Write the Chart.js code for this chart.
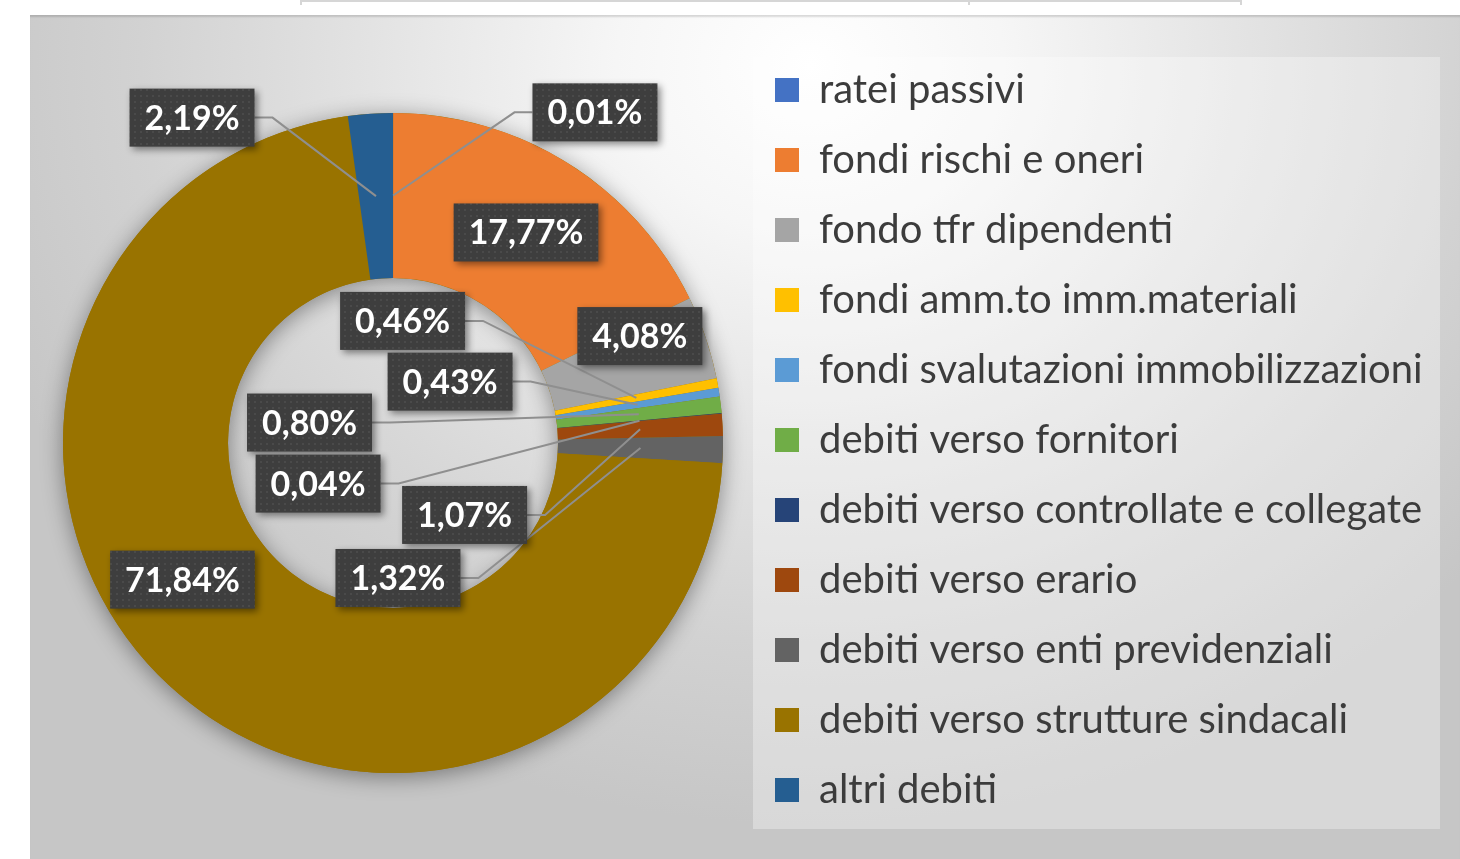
<!DOCTYPE html>
<html>
<head>
<meta charset="utf-8">
<script src="https://cdn.jsdelivr.net/npm/chart.js@4.4.1/dist/chart.umd.min.js"></script>
<style>
  body { margin: 0; background: #fff; width: 1460px; height: 859px; overflow: hidden; position: relative; }
  .rule { position: absolute; top: 0; left: 300px; width: 940px; height: 0; border-top: 2px solid #d6d6d6; }
  .tick { position: absolute; top: 0; width: 0; height: 5px; border-left: 2px solid #d6d6d6; }
  #frame {
    position: absolute; left: 30px; top: 15px; width: 1430px; height: 844px;
    background: radial-gradient(ellipse 880px 760px at 780px 50px, #ffffff 0%, #f6f6f6 22%, #e3e3e3 50%, #d2d2d2 76%, #c6c6c6 100%);
    box-shadow: inset 0 3px 2px -1px rgba(0,0,0,0.14);
  }
  #frame canvas { position: absolute; left: 0; top: 0; }
</style>
</head>
<body>
<div class="rule"></div>
<div class="tick" style="left:300px"></div>
<div class="tick" style="left:968px"></div>
<div class="tick" style="left:1240px"></div>
<div id="frame"><canvas id="passivita" width="1430" height="844"></canvas></div>

<script>
const categories = [
  'ratei passivi',
  'fondi rischi e oneri',
  'fondo tfr dipendenti',
  'fondi amm.to imm.materiali',
  'fondi svalutazioni immobilizzazioni',
  'debiti verso fornitori',
  'debiti verso controllate e collegate',
  'debiti verso erario',
  'debiti verso enti previdenziali',
  'debiti verso strutture sindacali',
  'altri debiti'
];
const shares = [0.01, 17.77, 4.08, 0.46, 0.43, 0.80, 0.04, 1.07, 1.32, 71.84, 2.19];
const sliceColors = ['#4472C4', '#ED7D31', '#A5A5A5', '#FFC000', '#5B9BD5', '#70AD47',
                     '#264478', '#9E480E', '#636363', '#997300', '#255E91'];

// posizione delle etichette, in raggi esterni rispetto al centro
const labelDX = [0.612, 0.403, 0.748, 0.029, 0.173, -0.253, -0.227, 0.217, 0.015, -0.638, -0.609];
const labelDY = [-1.002, -0.638, -0.324, -0.370, -0.186, -0.062, 0.123, 0.218, 0.409, 0.414, -0.986];
const leaderSide = ['left', null, null, 'right', 'right', 'right', 'right', 'right', 'right', null, 'right'];

const legendFont = { family: 'Lato', size: 40 };
const legendPad = 30;
const legendBox = 24;
const legendLeft = 715;   // bordo sinistro della legenda nel canvas
const ringCenterX = 363;
const ringRadius = 330;

// larghezza della legenda per lasciare il grafico a sinistra
var measure = document.createElement('canvas').getContext('2d');
measure.font = legendFont.size + 'px ' + legendFont.family;
var longest = Math.max.apply(null, categories.map(function(c) { return measure.measureText(c).width; }));
var legendWidth = legendPad + legendBox + legendFont.size / 2 + longest + 10;
var padRight = Math.max(0, 1430 - legendLeft - legendWidth);

function fmt(v) {
    return v.toFixed(2).replace('.', ',') + '%';
}

// texture a puntini per i riquadri delle etichette
var dots = document.createElement('canvas');
dots.width = dots.height = 6;
var dctx = dots.getContext('2d');
dctx.fillStyle = '#3e3e3e';
dctx.fillRect(0, 0, 6, 6);
dctx.fillStyle = '#4a4a4a';
dctx.fillRect(2, 2, 2, 2);

// sfondo chiaro dietro la legenda
var legendPanel = {
    id: 'legendPanel',
    beforeDraw: function(chart) {
        var ctx = chart.ctx;
        ctx.save();
        ctx.fillStyle = 'rgba(255,255,255,0.32)';
        ctx.fillRect(chart.legend.left + 8, 42, 1410 - chart.legend.left - 8, 772);
        ctx.restore();
    }
};

// ombra morbida sotto l'anello
var ringShadow = {
    id: 'ringShadow',
    beforeDatasetsDraw: function(chart) {
        var arc = chart.getDatasetMeta(0).data[0];
        var p = arc.getProps(['x', 'y', 'outerRadius', 'innerRadius']);
        var ctx = chart.ctx;
        ctx.save();
        ctx.shadowColor = 'rgba(0,0,0,0.4)';
        ctx.shadowBlur = 22;
        ctx.shadowOffsetY = 4;
        ctx.beginPath();
        ctx.arc(p.x, p.y, p.outerRadius, 0, Math.PI * 2);
        ctx.arc(p.x, p.y, p.innerRadius, 0, Math.PI * 2, true);
        ctx.fillStyle = '#997300';
        ctx.fill('evenodd');
        ctx.restore();
    }
};

// etichette percentuali con riquadro scuro e linee guida
var sliceLabels = {
    id: 'sliceLabels',
    afterDatasetsDraw: function(chart) {
        var ctx = chart.ctx;
        var arcs = chart.getDatasetMeta(0).data;
        var c = arcs[0].getProps(['x', 'y', 'outerRadius']);
        ctx.save();
        ctx.font = 'bold 34px Lato';
        var boxes = arcs.map(function(arc, i) {
            var w = ctx.measureText(fmt(shares[i])).width + 30;
            var h = 58;
            var cx = c.x + labelDX[i] * c.outerRadius;
            var cy = c.y + labelDY[i] * c.outerRadius;
            return { x: cx - w / 2, y: cy - h / 2, w: w, h: h, cx: cx, cy: cy };
        });

        // linee guida
        ctx.strokeStyle = '#8f8f8f';
        ctx.lineWidth = 2;
        arcs.forEach(function(arc, i) {
            if (!leaderSide[i]) return;
            var b = boxes[i];
            var anchor = arc.getCenterPoint();
            var sx = leaderSide[i] === 'left' ? b.x : b.x + b.w;
            var kx = leaderSide[i] === 'left' ? sx - 18 : sx + 18;
            ctx.beginPath();
            ctx.moveTo(sx, b.cy);
            ctx.lineTo(kx, b.cy);
            ctx.lineTo(anchor.x, anchor.y);
            ctx.stroke();
        });

        var pattern = ctx.createPattern(dots, 'repeat');
        boxes.forEach(function(b, i) {
            ctx.save();
            ctx.shadowColor = 'rgba(0,0,0,0.45)';
            ctx.shadowBlur = 7;
            ctx.shadowOffsetX = 3;
            ctx.shadowOffsetY = 3;
            ctx.fillStyle = pattern;
            ctx.fillRect(b.x, b.y, b.w, b.h);
            ctx.restore();
            ctx.fillStyle = '#ffffff';
            ctx.textAlign = 'center';
            ctx.textBaseline = 'middle';
            ctx.fillText(fmt(shares[i]), b.cx, b.cy + 1);
        });
        ctx.restore();
    }
};

var ctx = document.getElementById('passivita').getContext('2d');
var chart = new Chart(ctx, {
    type: 'doughnut',
    data: {
        labels: categories,
        datasets: [{
            data: shares,
            backgroundColor: sliceColors,
            borderWidth: 0,
            radius: ringRadius,
            cutout: '50%'
        }]
    },
    options: {
        responsive: false,
        animation: false,
        layout: {
            padding: { left: 2 * ringCenterX - legendLeft, right: padRight, top: 25, bottom: 13 }
        },
        plugins: {
            tooltip: { enabled: false },
            legend: {
                position: 'right',
                align: 'start',
                labels: {
                    color: '#3c3c3c',
                    font: legendFont,
                    boxWidth: legendBox,
                    boxHeight: legendBox,
                    padding: legendPad
                }
            }
        }
    },
    plugins: [legendPanel, ringShadow, sliceLabels]
});
</script>
</body>
</html>
